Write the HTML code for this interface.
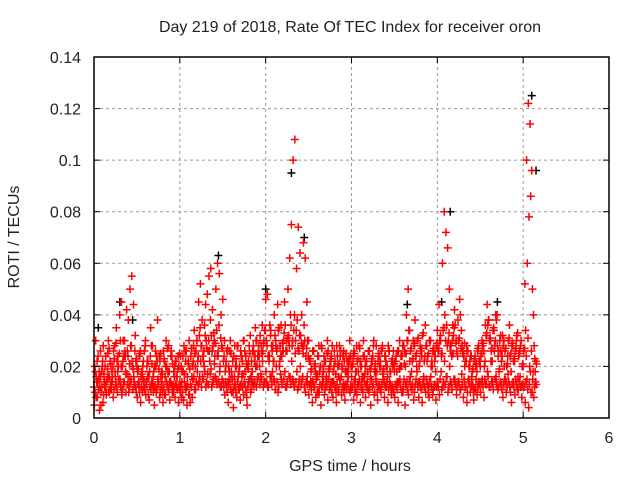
<!DOCTYPE html>
<html><head><meta charset="utf-8"><style>
body{margin:0;background:#fff;}
svg text{font-family:"Liberation Sans",sans-serif;font-size:16px;fill:#222;}
</style></head><body>
<svg id="chart" width="640" height="480" xmlns="http://www.w3.org/2000/svg">
<text x="350" y="32" text-anchor="middle">Day 219 of 2018, Rate Of TEC Index for receiver oron</text>
<text x="350" y="471" text-anchor="middle">GPS time / hours</text>
<text transform="translate(19,237) rotate(-90)" text-anchor="middle">ROTI / TECUs</text>
<g id="grid"></g>
<g id="marks"></g>
<rect x="94" y="57" width="515" height="361" fill="none" stroke="#000" stroke-width="1.5"/>
<g id="ticks"></g>
</svg>
<script>
const xTicks=[0,1,2,3,4,5,6];
const yTicks=[0,0.02,0.04,0.06,0.08,0.1,0.12,0.14];
const yTickLabels=["0","0.02","0.04","0.06","0.08","0.1","0.12","0.14"];
const timeStep=0.02;
const seriesA=[12,30,8,18,5,22,14,10,25,16,11,20,28,35,24,40,45,30,26,42,38,50,55,44,32,
20,14,26,18,12,30,22,16,35,28,12,20,38,24,16,10,22,30,18,14,26,12,20,16,24,
14,8,18,26,12,22,6,16,28,20,30,45,52,38,26,44,48,55,58,42,30,50,60,56,40,
46,30,22,14,26,18,10,28,20,16,12,24,30,18,8,22,32,14,26,35,20,28,16,36,30,
46,48,22,34,18,40,28,44,20,36,26,45,30,50,62,75,100,108,58,74,64,40,68,62,45,
30,22,14,26,18,10,28,20,16,24,12,30,18,22,14,26,10,20,28,16,24,12,18,22,30,
16,24,10,28,18,22,14,30,20,12,26,16,22,30,18,10,24,20,28,14,22,16,26,12,20,
18,24,14,30,20,10,26,40,50,22,18,30,38,20,14,28,24,16,36,22,12,30,20,26,18,
34,44,30,60,80,72,66,50,28,36,42,30,38,46,34,26,20,28,14,22,16,10,24,18,28,
20,30,26,36,44,38,30,22,34,40,28,18,26,32,20,14,24,36,18,28,22,30,16,26,12,
20,52,100,122,114,96,40,18];
const seriesB=[5,8,14,3,10,6,12,9,16,11,14,8,18,12,20,15,9,13,24,17,10,14,22,16,12,
8,12,6,10,14,9,16,7,11,13,5,10,15,8,12,6,9,14,11,7,13,10,8,12,6,
10,14,7,12,5,9,13,8,16,11,18,14,22,16,20,12,17,26,19,14,21,15,24,18,12,
14,9,12,6,15,10,4,13,8,11,7,16,9,12,5,14,10,18,13,20,15,24,17,22,14,
18,12,24,16,28,14,20,10,22,15,26,18,12,30,16,22,14,25,18,12,20,15,28,10,16,
9,14,6,12,8,16,10,5,13,9,15,7,11,14,8,12,6,10,15,9,13,7,11,16,10,
12,7,15,9,13,6,11,16,8,14,10,5,12,9,15,7,13,10,17,8,12,6,14,9,11,
8,13,6,15,10,12,5,14,9,16,11,7,13,18,8,12,6,15,10,13,8,16,9,12,7,
14,9,18,12,22,16,10,20,13,25,15,9,14,11,17,8,12,6,15,10,13,7,11,9,14,
10,15,8,13,18,12,22,14,26,16,11,19,13,8,15,10,17,12,6,14,9,13,11,16,8,
12,6,15,4,18,10,8,14];
const seriesC=[20,16,24,12,18,28,20,14,30,22,18,26,16,22,14,30,20,24,18,26,16,28,20,14,22,
18,24,16,20,26,14,22,18,28,16,20,24,14,22,18,26,16,20,28,14,24,18,22,16,20,
24,18,28,22,16,30,24,20,34,26,22,32,28,24,36,30,26,22,32,28,24,34,26,20,28,
22,18,26,20,30,16,24,20,28,18,26,22,30,24,20,28,16,26,22,30,24,20,28,26,34,
30,24,36,28,22,32,26,34,28,24,30,36,26,32,40,28,34,30,38,26,32,28,36,24,30,
22,18,26,20,16,24,18,28,20,22,16,26,20,24,18,22,28,16,24,20,26,18,22,20,24,
20,26,18,22,28,20,16,24,22,18,26,20,24,18,28,22,20,26,18,24,20,28,18,22,26,
22,18,26,20,24,28,20,30,34,26,22,28,24,30,20,26,32,22,28,24,30,20,26,22,28,
26,30,24,34,40,36,30,28,24,32,36,26,30,40,28,24,22,26,20,24,18,22,20,26,22,
24,28,20,32,36,30,26,34,28,38,24,30,22,28,26,20,30,24,28,22,26,32,24,28,20,
26,34,60,78,86,50,28,22];
const seriesD=[10,14,11,16,12,9,13,15,10,12,14,11,13,10,15,12,11,14,10,13,12,15,11,13,10,
13,10,12,15,11,13,9,12,14,10,12,11,13,10,14,12,9,13,11,14,10,12,13,11,12,
12,10,14,11,13,9,12,15,11,14,13,16,12,15,18,14,13,17,12,15,16,13,14,12,15,
12,14,10,13,11,15,12,10,14,11,13,12,14,10,12,15,11,13,14,12,16,13,15,12,14,
14,12,16,13,15,11,14,12,17,13,15,12,14,16,13,15,12,14,11,15,13,16,12,14,13,
13,11,14,12,15,10,13,12,14,11,13,15,12,10,14,12,13,11,15,12,10,13,14,11,12,
12,14,11,13,15,12,10,14,13,11,12,15,13,10,14,12,11,13,15,12,14,11,13,12,10,
13,11,14,12,10,15,13,11,14,12,13,10,15,12,14,11,13,12,15,10,14,12,11,13,12,
12,15,11,14,13,16,12,14,11,15,13,12,14,11,13,15,12,10,14,12,13,11,15,12,13,
14,12,15,13,16,12,14,11,15,13,12,14,11,13,15,12,14,10,13,12,15,11,14,12,13,
12,14,11,13,10,15,12,13];
const seriesE=[18,22,15,26,20,17,24,19,27,21,16,23,29,18,25,20,22,30,17,24,21,28,19,26,23,
19,25,17,22,28,20,16,24,21,18,26,22,19,25,17,23,20,27,18,24,21,16,22,19,25,
20,24,17,26,21,19,27,22,25,30,24,35,28,22,32,27,30,38,26,33,29,24,36,31,27,
24,20,27,18,25,22,16,23,28,20,24,17,26,21,19,25,22,28,24,30,26,32,25,29,34,
28,24,32,26,22,30,27,35,24,29,33,26,31,28,36,30,40,34,27,32,29,25,30,27,24,
23,19,26,21,17,24,20,27,18,22,25,19,23,28,20,17,24,21,26,19,22,25,18,23,20,
21,25,18,23,27,20,24,17,22,26,19,23,28,21,18,25,22,27,19,24,20,26,18,23,21,
22,26,19,24,28,21,25,30,34,27,23,29,25,31,22,27,33,24,28,25,30,22,27,24,29,
27,32,25,35,30,28,33,26,30,35,29,24,31,27,25,29,22,26,20,24,19,23,21,27,22,
25,29,22,33,38,31,27,35,30,40,26,32,24,30,27,21,31,25,29,23,27,33,25,30,21,
27,24,31,20,26,18,23,21];
const blackTimes=[0.05,0.3,0.45,1.45,2.3,2.45,3.65,4.05,4.15,5.1,5.15,2.0,4.7];
const blackValues=[0.035,0.045,0.038,0.063,0.095,0.07,0.044,0.045,0.08,0.125,0.096,0.05,0.045];

const X0=94,X1=609,Y0=418,Y1=57;
const xs=v=>X0+(v-0)/(6-0)*(X1-X0);
const ys=v=>Y0-(v-0)/(0.14-0)*(Y0-Y1);
const NS="http://www.w3.org/2000/svg";
const grid=document.getElementById('grid'),ticks=document.getElementById('ticks'),marks=document.getElementById('marks');
function mk(tag,attrs,parent){const e=document.createElementNS(NS,tag);for(const k in attrs)e.setAttribute(k,attrs[k]);parent.appendChild(e);return e;}
xTicks.forEach((t,i)=>{
  const x=xs(t);
  if(i>0&&i<xTicks.length-1){const g=mk('line',{x1:x,x2:x,y1:Y0,y2:Y1,stroke:'#999','stroke-dasharray':'3,3'},grid);
  
  }
  const a=mk('line',{x1:x,x2:x,y1:Y0,y2:Y0-6,stroke:'#000'},ticks);
  
  
  mk('line',{x1:x,x2:x,y1:Y1,y2:Y1+6,stroke:'#000'},ticks);
  const l=mk('text',{x:x,y:443,'text-anchor':'middle'},ticks);l.textContent=t;
  
  
});
yTicks.forEach((t,i)=>{
  const y=ys(t);
  if(i>0&&i<yTicks.length-1){const g=mk('line',{x1:X0,x2:X1,y1:y,y2:y,stroke:'#999','stroke-dasharray':'3,3'},grid);
  
  }
  const a=mk('line',{x1:X0,x2:X0+6,y1:y,y2:y,stroke:'#000'},ticks);
  
  
  mk('line',{x1:X1,x2:X1-6,y1:y,y2:y,stroke:'#000'},ticks);
  const l=mk('text',{x:81,y:y+6,'text-anchor':'end'},ticks);l.textContent=yTickLabels[i];
  
  
});
function plus(t,v,color){
  const x=xs(t),y=ys(v);
  const p=mk('path',{d:`M${x-4},${y}h8M${x},${y-4}v8`,stroke:color,'stroke-width':1.5},marks);
  
  
}
blackTimes.forEach((t,i)=>plus(t,blackValues[i],'#000'));
[seriesA,seriesB,seriesC,seriesD,seriesE].forEach((s,k)=>s.forEach((v,i)=>plus(i*timeStep+k*0.004,v/1000,'#f00')));
</script>
</body></html>
